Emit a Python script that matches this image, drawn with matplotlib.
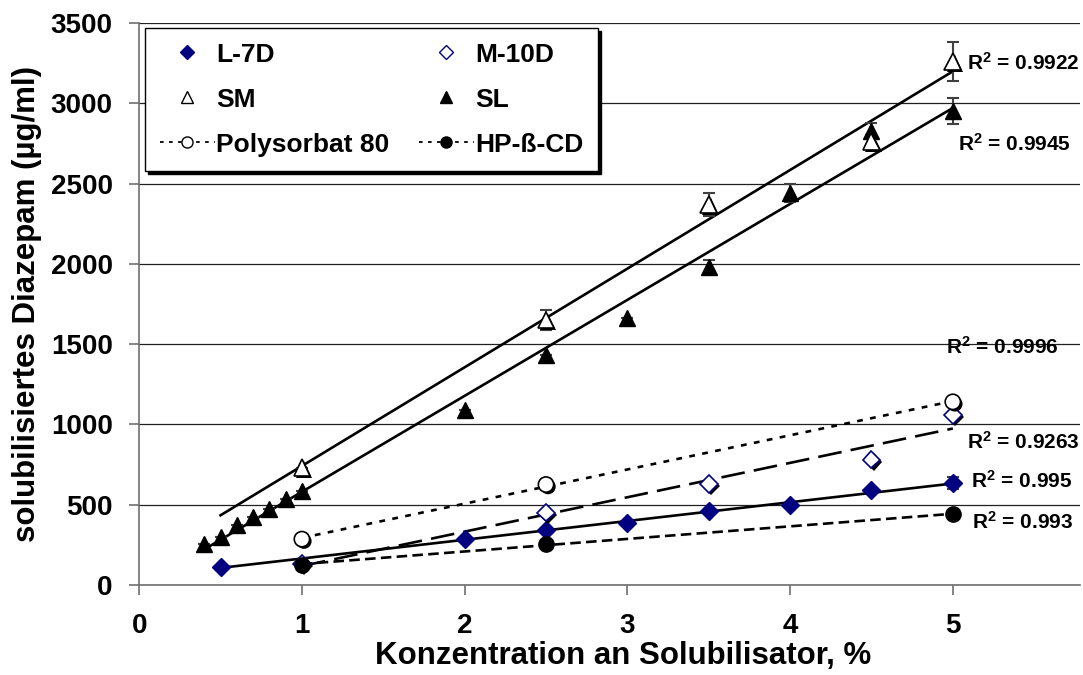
"""Solubilisiertes Diazepam vs. Konzentration an Solubilisator."""

import matplotlib
matplotlib.use('Agg')
import matplotlib.pyplot as plt
import matplotlib.patheffects as pe
from matplotlib.lines import Line2D
import numpy as np

plt.rcParams['font.family'] = ['Liberation Sans', 'DejaVu Sans']
plt.rcParams['font.weight'] = 'bold'
plt.rcParams['mathtext.fontset'] = 'custom'
plt.rcParams['mathtext.rm'] = 'Liberation Sans:bold'
plt.rcParams['mathtext.bf'] = 'Liberation Sans:bold'
plt.rcParams['mathtext.default'] = 'bf'

# Data
sl_x = [0.4, 0.5, 0.6, 0.7, 0.8, 0.9, 1.0, 2.0, 2.5, 3.0, 3.5, 4.0, 4.5, 5.0]
sl_y = [255, 300, 370, 425, 470, 535, 585, 1090, 1430, 1660, 1980, 2440, 2830, 2950]
sl_err = [0, 0, 0, 0, 0, 0, 0, 0, 0, 0, 45, 55, 45, 80]

sm_x = [1.0, 2.5, 3.5, 4.5, 5.0]
sm_y = [730, 1650, 2370, 2760, 3260]
sm_err = [0, 60, 70, 40, 120]

l7d_x = [0.5, 2.0, 2.5, 3.0, 3.5, 4.0, 4.5, 5.0]
l7d_y = [110, 285, 340, 385, 460, 495, 590, 635]
l7d_err = [0, 0, 0, 0, 0, 0, 0, 40]

m10d_x = [1.0, 2.5, 3.5, 4.5, 5.0]
m10d_y = [130, 450, 630, 780, 1060]

ps80_x = [1.0, 2.5, 5.0]
ps80_y = [285, 625, 1140]

hpcd_x = [1.0, 2.5, 5.0]
hpcd_y = [125, 255, 440]

r2_labels = ['0.9922', '0.9945', '0.9996', '0.9263', '0.995', '0.993']
r2_x = [5.09, 5.03, 4.96, 5.09, 5.11, 5.12]
r2_y = [3250, 2750, 1480, 890, 645, 395]

NAVY = '#000080'
shadow = [pe.withSimplePatchShadow(offset=(1.5, -1.5), shadow_rgbFace='black', alpha=1)]


def trend(ax, x, y, x0, x1, **kw):
    k, d = np.polyfit(x, y, 1)
    xs = np.array([x0, x1])
    ax.plot(xs, k * xs + d, color='black', linewidth=1.9, zorder=2, **kw)


fig = plt.figure(figsize=(10.83, 6.75), dpi=100)
ax = fig.add_axes([0.1285, 0.1335, 0.8685, 0.8325])

# Trend lines
trend(ax, sm_x, sm_y, 0.5, 5.0, linestyle='-')
trend(ax, sl_x, sl_y, 0.4, 5.0, linestyle='-')
trend(ax, l7d_x, l7d_y, 0.5, 5.0, linestyle='-')
trend(ax, ps80_x, ps80_y, 1.0, 5.0, linestyle=(0, (2.2, 2.8)))
trend(ax, m10d_x, m10d_y, 1.0, 5.0, linestyle=(0, (9, 3.5)))
trend(ax, hpcd_x, hpcd_y, 1.0, 5.0, linestyle=(0, (4, 2)))

# Error bars
ecol = '#404040'
for xs, ys, es in [(sm_x, sm_y, sm_err), (sl_x, sl_y, sl_err), (l7d_x, l7d_y, l7d_err)]:
    ax.errorbar(xs, ys, yerr=es, fmt='none', ecolor=ecol, elinewidth=1.5,
                capsize=4, capthick=1.5, zorder=3)

# Markers
ax.plot(sl_x, sl_y, linestyle='none', marker='^', markersize=11, color='black', zorder=4)
ax.plot(sm_x, sm_y, linestyle='none', marker='^', markersize=12, markerfacecolor='white',
        markeredgecolor='black', markeredgewidth=1.2, zorder=4, path_effects=shadow)
ax.plot(l7d_x, l7d_y, linestyle='none', marker='D', markersize=9, color=NAVY, zorder=4)
ax.plot(m10d_x, m10d_y, linestyle='none', marker='D', markersize=9, markerfacecolor='white',
        markeredgecolor=NAVY, markeredgewidth=1.2, zorder=4, path_effects=shadow)
ax.plot(ps80_x, ps80_y, linestyle='none', marker='o', markersize=11, markerfacecolor='white',
        markeredgecolor='black', markeredgewidth=1.2, zorder=4, path_effects=shadow)
ax.plot(hpcd_x, hpcd_y, linestyle='none', marker='o', markersize=11, color='black', zorder=4)

# R^2 labels
for lab, tx, ty in zip(r2_labels, r2_x, r2_y):
    ax.text(tx, ty, r'R$^2$ = ' + lab, fontsize=15, fontweight='bold', va='center', ha='left')

# Axes
ax.set_xlim(0, 5.78)
ax.set_ylim(0, 3500)
ax.set_xticks([0, 1, 2, 3, 4, 5])
ax.set_yticks(np.arange(0, 3501, 500))
ax.yaxis.grid(True, color='#202020', linewidth=0.9)
ax.set_axisbelow(True)
ax.spines['right'].set_visible(False)
ax.spines['top'].set_visible(False)
for s in ('left', 'bottom'):
    ax.spines[s].set_color('#707070')
    ax.spines[s].set_linewidth(1.2)
ax.tick_params(direction='out', length=7, width=1.2, color='#707070', labelsize=20)
ax.tick_params(axis='x', pad=13)
ax.tick_params(axis='y', pad=12)
for lab in ax.get_xticklabels() + ax.get_yticklabels():
    lab.set_fontweight('bold')
ax.set_xlabel('Konzentration an Solubilisator, %', fontsize=22.5, fontweight='bold')
ax.xaxis.set_label_coords(0.515, -0.1)
ax.xaxis.label.set_va('top')
ax.set_ylabel('solubilisiertes Diazepam (µg/ml)', fontsize=22.5, fontweight='bold', labelpad=6)

# Legend (column-wise order for ncol=2)
handles = [
    Line2D([], [], linestyle='none', marker='D', markersize=7, color=NAVY),
    Line2D([], [], linestyle='none', marker='^', markersize=8, markerfacecolor='white',
           markeredgecolor='black'),
    Line2D([], [], linestyle=(0, (2, 3)), color='black', linewidth=1.3, marker='o', markersize=8,
           markerfacecolor='white', markeredgecolor='black'),
    Line2D([], [], linestyle='none', marker='D', markersize=7, markerfacecolor='white',
           markeredgecolor=NAVY),
    Line2D([], [], linestyle='none', marker='^', markersize=8, color='black'),
    Line2D([], [], linestyle=(0, (2, 3)), color='black', linewidth=1.3, marker='o', markersize=8),
]
labels = ['L-7D', 'SM', 'Polysorbat 80', 'M-10D', 'SL', 'HP-ß-CD']
leg = fig.legend(handles, labels, ncol=2, loc='upper left',
                 bbox_to_anchor=(145 / 1083, 1 - 28 / 675),
                 bbox_transform=fig.transFigure, borderaxespad=0, fancybox=False,
                 shadow={'color': 'black', 'alpha': 1}, framealpha=1, edgecolor='black',
                 prop={'size': 19, 'weight': 'bold'}, handlelength=2.1, handletextpad=0.05,
                 columnspacing=1.1, labelspacing=0.8, borderpad=0.55)
leg.get_frame().set_linewidth(1.0)

fig.savefig('out.png', dpi=100)
